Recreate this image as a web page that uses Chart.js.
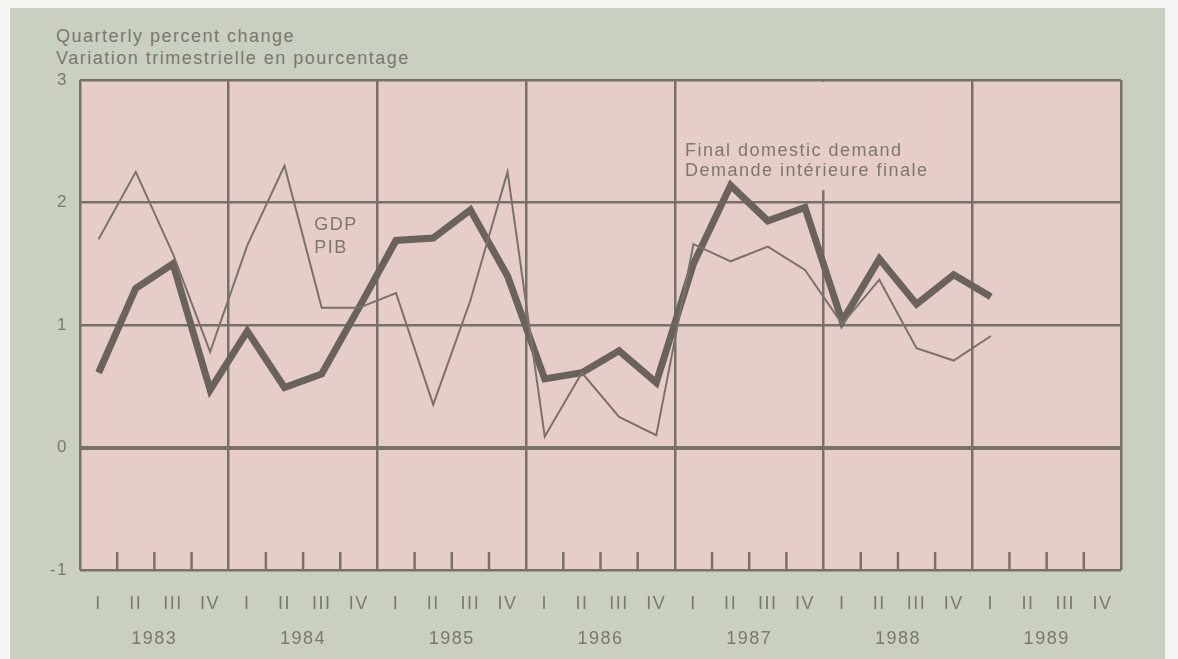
<!DOCTYPE html>
<html>
<head>
<meta charset="utf-8">
<script src="https://cdn.jsdelivr.net/npm/chart.js@4.4.1/dist/chart.umd.min.js"></script>
<style>
  html, body { margin: 0; padding: 0; background: #f4f5f2; }
  #frame {
    position: absolute; left: 10px; top: 8px; width: 1155px; height: 651px;
    background: #c9cfc1;
  }
  #title {
    position: absolute; left: 46px; top: 17px;
    font-family: 'Liberation Sans', Arial, sans-serif; font-size: 18px;
    letter-spacing: 1.5px; line-height: 22px; color: #7a786f;
  }
  canvas { position: absolute; left: 0; top: 0; }
</style>
</head>
<body>
<div id="frame">
  <div id="title">Quarterly percent change<br>Variation trimestrielle en pourcentage</div>
  <canvas id="chart" width="1155" height="651"></canvas>
</div>
<script>
'use strict'
//
const years = ['1983', '1984', '1985', '1986', '1987', '1988', '1989']
const quarterLabels = ['I', 'II', 'III', 'IV']
// 1983 I .. 1989 I
const finalDemand = [0.61, 1.30, 1.50, 0.47, 0.95, 0.49, 0.60, 1.14, 1.69, 1.71, 1.94, 1.40, 0.56, 0.61, 0.79, 0.53, 1.50, 2.14, 1.85, 1.96, 1.03, 1.54, 1.17, 1.41, 1.23]
const gdp = [1.70, 2.25, 1.58, 0.78, 1.65, 2.30, 1.14, 1.14, 1.26, 0.35, 1.20, 2.25, 0.09, 0.61, 0.25, 0.10, 1.66, 1.52, 1.64, 1.45, 1.01, 1.37, 0.81, 0.71, 0.91]
const yTicks = [-1, 0, 1, 2, 3]

;(() => {
  const textColor = '#7a786f'
  const gridColor = '#77716a'
  const font = { family: "'Liberation Sans', Arial, sans-serif", size: 18 }
  const nQ = years.length * 4

  const toPoints = (arr) => arr.map((v, i) => ({ x: i + 0.5, y: v }))

  const frame = {
    id: 'frame',
    beforeDraw(chart) {
      const { ctx, chartArea: a } = chart
      ctx.letterSpacing = '1.5px'
      ctx.save()
      ctx.fillStyle = '#e7cdca'
      ctx.fillRect(a.left, a.top, a.right - a.left, a.bottom - a.top)
      ctx.restore()
    },
    beforeDatasetsDraw(chart) {
      const { ctx, chartArea: a, scales } = chart
      const xs = scales.x
      const ys = scales.y
      ctx.save()
      // short quarter marks on the bottom edge
      ctx.strokeStyle = gridColor
      ctx.lineWidth = 2.5
      for (let i = 1; i < nQ; i++) {
        if (i % 4 === 0) continue
        const px = xs.getPixelForValue(i)
        ctx.beginPath()
        ctx.moveTo(px, a.bottom)
        ctx.lineTo(px, a.bottom - 18)
        ctx.stroke()
      }
      // label box hides the 1987/1988 line behind the text
      ctx.fillStyle = '#e7cdca'
      const bx0 = xs.getPixelForValue(16.1)
      const bx1 = xs.getPixelForValue(22.9)
      const by0 = ys.getPixelForValue(2.984)
      const by1 = ys.getPixelForValue(2.1)
      ctx.fillRect(bx0, by0, bx1 - bx0, by1 - by0)

      ctx.fillStyle = textColor
      ctx.font = `18px ${font.family}`
      ctx.textBaseline = 'middle'
      ctx.textAlign = 'left'
      ctx.fillText('Final domestic demand', xs.getPixelForValue(16.27), ys.getPixelForValue(2.42))
      ctx.fillText('Demande intérieure finale', xs.getPixelForValue(16.27), ys.getPixelForValue(2.26))
      ctx.fillText('GDP', xs.getPixelForValue(6.3), ys.getPixelForValue(1.82))
      ctx.fillText('PIB', xs.getPixelForValue(6.3), ys.getPixelForValue(1.63))
      ctx.restore()
    }
  }

  new Chart(document.getElementById('chart'), {
    type: 'line',
    data: {
      datasets: [
        {
          label: 'GDP / PIB',
          data: toPoints(gdp),
          borderColor: '#79726b',
          borderWidth: 2,
          pointRadius: 0,
          tension: 0
        },
        {
          label: 'Final domestic demand / Demande intérieure finale',
          data: toPoints(finalDemand),
          borderColor: '#6a625c',
          borderWidth: 7,
          borderJoinStyle: 'miter',
          pointRadius: 0,
          tension: 0
        }
      ]
    },
    options: {
      responsive: false,
      animation: false,
      devicePixelRatio: 1,
      layout: { padding: { top: 72, right: 44, left: 0, bottom: 0 } },
      plugins: {
        legend: { display: false },
        tooltip: { enabled: false }
      },
      scales: {
        x: {
          type: 'linear',
          position: 'bottom',
          min: 0,
          max: nQ,
          weight: 0,
          afterBuildTicks: (s) => {
            s.ticks = Array.from({ length: nQ }, (_, i) => ({ value: i + 0.5 }))
          },
          afterFit: (s) => { s.height = 45 },
          grid: { display: false },
          border: { display: false },
          ticks: {
            autoSkip: false,
            maxRotation: 0,
            padding: 15,
            color: textColor,
            font,
            callback: (v) => quarterLabels[Math.floor(v) % 4]
          }
        },
        yr: {
          type: 'linear',
          position: 'bottom',
          min: 0,
          max: nQ,
          weight: 1,
          afterBuildTicks: (s) => {
            s.ticks = Array.from({ length: nQ / 2 + 1 }, (_, i) => ({ value: i * 2 }))
          },
          afterFit: (s) => { s.height = 44 },
          grid: {
            drawTicks: false,
            lineWidth: 2.5,
            color: (c) => (c.tick && c.tick.value % 4 === 0 ? gridColor : 'rgba(0,0,0,0)')
          },
          border: { display: false },
          ticks: {
            autoSkip: false,
            maxRotation: 0,
            padding: 13,
            color: textColor,
            font,
            callback: (v) => (v % 4 === 2 ? years[(v - 2) / 4] : '')
          }
        },
        y: {
          min: yTicks[0],
          max: yTicks[yTicks.length - 1],
          afterBuildTicks: (s) => {
            s.ticks = yTicks.map((v) => ({ value: v }))
          },
          afterFit: (s) => { s.width = 70 },
          grid: {
            drawTicks: false,
            color: gridColor,
            lineWidth: (c) => (c.tick && c.tick.value === 0 ? 4 : 2.5)
          },
          border: { display: false },
          ticks: {
            padding: 12,
            color: textColor,
            font: { family: font.family, size: 17 }
          }
        }
      }
    },
    plugins: [frame]
  })
})()
</script>
</body>
</html>
